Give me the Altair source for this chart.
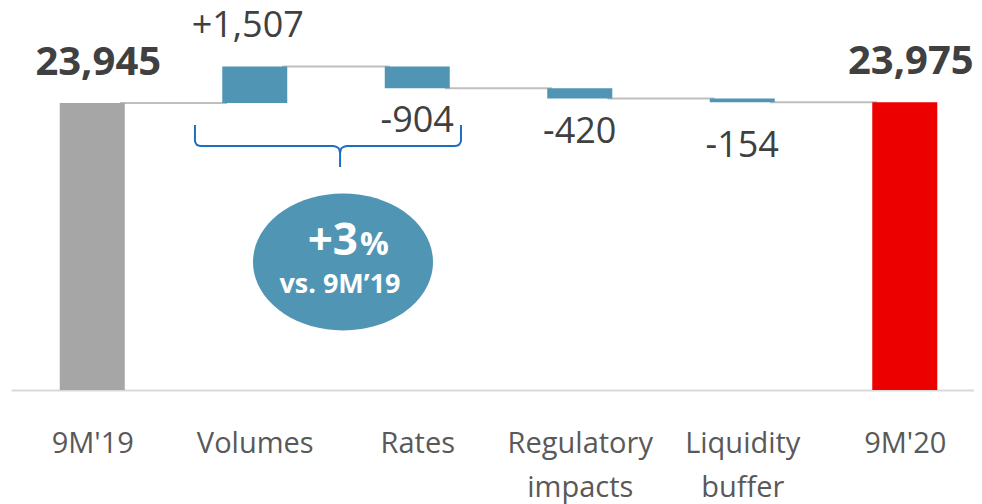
import altair as alt
import pandas as pd

# ---- data ----
categories = ["9M'19", "Volumes", "Rates", "Regulatory impacts", "Liquidity buffer", "9M'20"]
values = [23945, 1507, -904, -420, -154, 23975]
value_labels = ["23,945", "+1,507", "-904", "-420", "-154", "23,975"]
kinds = ["start", "delta", "delta", "delta", "delta", "end"]

# curly brace annotation (x in category index units, y in data units)
brace_x = [0.632, 0.632, 0.645, 0.67, 1.48, 1.515, 1.525, 1.525, 1.525, 1.535, 1.57, 2.23, 2.255, 2.269, 2.269]
brace_y = [23038, 22379, 22214, 22173, 22173, 22090, 21884, 21308, 21884, 22090, 22173, 22173, 22214, 22379, 23038]

badge_main = "+3"
badge_pct = "%"
badge_sub = "vs. 9M\u201919"
badge_x = [1.543]
badge_y = [17394]

Y_DOMAIN = [12120, 27858]
X_DOMAIN = [-0.5, 5.426]
HALF = 0.2

GREY = "#a6a6a6"
TEAL = "#5096b4"
RED = "#ec0000"
TXT = "#404040"
FONT = "Open Sans"

# ---- build tables ----
rows = []
running = 0
for i, (c, v, lab, k) in enumerate(zip(categories, values, value_labels, kinds)):
    if k == "delta":
        start, end = running, running + v
    else:
        start, end = Y_DOMAIN[0], v
    running = end
    rows.append(dict(idx=i, cat=c, x0=i - HALF, x1=i + HALF, start=start, end=end,
                     top=max(start, end), bottom=min(start, end), label=lab, kind=k,
                     sign="pos" if v >= 0 else "neg"))
df = pd.DataFrame(rows)

conn = pd.DataFrame([dict(xa=i + 0.17, xb=i + 0.83, level=rows[i]["end"]) for i in range(len(rows) - 1)])
brace = pd.DataFrame(dict(bx=brace_x, by=brace_y, order=list(range(len(brace_x)))))
badge = pd.DataFrame(dict(x=badge_x, y=badge_y))

xs = alt.Scale(domain=X_DOMAIN, nice=False, zero=False)
ys = alt.Scale(domain=Y_DOMAIN, nice=False, zero=False)

label_expr = "split([" + ",".join('"%s"' % c for c in categories) + "][datum.value], ' ')"
XAX = alt.Axis(
    values=list(range(len(categories))), labelExpr=label_expr, grid=False, ticks=False,
    domainColor="#d9d9d9", domainWidth=2, labelFontSize=29, labelFont=FONT,
    labelColor="#595959", labelPadding=39, labelLineHeight=44, title=None,
    labelFlush=False, labelOverlap=False)


def X(field):
    return alt.X(field, scale=xs, axis=XAX)


def Y(field):
    return alt.Y(field, scale=ys, axis=None)


bars = alt.Chart(df).mark_bar().encode(
    x=X("x0:Q"), x2="x1:Q", y=Y("start:Q"), y2="end:Q",
    color=alt.Color("kind:N", scale=alt.Scale(domain=["start", "delta", "end"], range=[GREY, TEAL, RED]), legend=None),
)

connectors = alt.Chart(conn).mark_rule(color="#bfbfbf", strokeWidth=2).encode(
    x=X("xa:Q"), x2="xb:Q", y=Y("level:Q"),
)

totals_text = alt.Chart(df).transform_filter("datum.kind != 'delta'").mark_text(
    font=FONT, fontSize=40, fontWeight="bold", color=TXT, baseline="alphabetic", dy=-28, dx=6
).encode(x=X("idx:Q"), y=Y("top:Q"), text="label:N")

pos_text = alt.Chart(df).transform_filter("datum.kind == 'delta' && datum.sign == 'pos'").mark_text(
    font=FONT, fontSize=36, color=TXT, baseline="alphabetic", dy=-29, dx=-7
).encode(x=X("idx:Q"), y=Y("top:Q"), text="label:N")

neg_text = alt.Chart(df).transform_filter("datum.kind == 'delta' && datum.sign == 'neg' && datum.idx < 4").mark_text(
    font=FONT, fontSize=36, color=TXT, baseline="alphabetic", dy=44
).encode(x=X("idx:Q"), y=Y("bottom:Q"), text="label:N")

neg_text_last = alt.Chart(df).transform_filter("datum.kind == 'delta' && datum.sign == 'neg' && datum.idx == 4").mark_text(
    font=FONT, fontSize=36, color=TXT, baseline="alphabetic", dy=55
).encode(x=X("idx:Q"), y=Y("bottom:Q"), text="label:N")

brace_line = alt.Chart(brace).mark_line(color="#1f6fc0", strokeWidth=2, interpolate="monotone").encode(
    x=X("bx:Q"), y=Y("by:Q"), order="order:Q"
)

ellipse = alt.Chart(badge).mark_point(
    shape="M -1 0 A 1 0.76 0 1 0 1 0 A 1 0.76 0 1 0 -1 0 Z", size=32400, filled=True, opacity=1, color=TEAL
).encode(x=X("x:Q"), y=Y("y:Q"))

b1 = alt.Chart(badge).mark_text(font=FONT, fontSize=44, fontWeight="bold", color="white",
                                align="right", baseline="alphabetic", dx=15, dy=-7, text=badge_main).encode(
    x=X("x:Q"), y=Y("y:Q"))
b2 = alt.Chart(badge).mark_text(font=FONT, fontSize=32, fontWeight="bold", color="white",
                                align="left", baseline="alphabetic", dx=17, dy=-7, text=badge_pct).encode(
    x=X("x:Q"), y=Y("y:Q"))
b3 = alt.Chart(badge).mark_text(font=FONT, fontSize=27, fontWeight="bold", color="white",
                                align="center", baseline="alphabetic", dx=-3, dy=31, text=badge_sub).encode(
    x=X("x:Q"), y=Y("y:Q"))

chart = alt.layer(connectors, bars, totals_text, pos_text, neg_text, neg_text_last, brace_line,
                  ellipse, b1, b2, b3).properties(
    width=963, height=382,
    autosize=alt.AutoSizeParams(type="none"),
    padding={"left": 3, "top": 0, "right": 0, "bottom": 114},
).configure_view(stroke=None)

chart.save("out.html", embed_options={"renderer": "svg", "actions": False})
